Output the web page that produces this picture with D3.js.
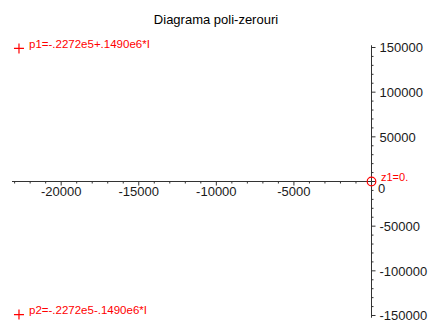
<!DOCTYPE html>
<html>
<head>
<meta charset="utf-8">
<script src="https://cdn.jsdelivr.net/npm/d3@7"></script>
<style>
  html, body { margin: 0; padding: 0; background: #fff; }
  svg { display: block; }
  text { font-family: "Liberation Sans", Arial, sans-serif; }
</style>
</head>
<body>
<svg id="chart" width="428" height="322"></svg>
<script>
// Pole-zero diagram data
const title = "Diagrama poli-zerouri";
const poleNames = ["p1", "p2"];
const poleRe = [-22720, -22720];
const poleIm = [149000, -149000];
const poleLabels = ["p1=-.2272e5+.1490e6*I", "p2=-.2272e5-.1490e6*I"];
const zeroNames = ["z1"];
const zeroRe = [0];
const zeroIm = [0];
const zeroLabels = ["z1=0."];
const xTicks = [-20000, -15000, -10000, -5000];
const yTicks = [150000, 100000, 50000, -50000, -100000, -150000];
const xMinor = d3.range(-23000, 1, 1000);
const yMinor = d3.range(-150000, 150001, 10000);

const svg = d3.select("#chart");
const x = d3.scaleLinear().domain([-23170, 0]).range([12, 371.5]);
const y = d3.scaleLinear().domain([-150000, 150000]).range([315.5, 47.5]);
const axisColor = "#333";
const textColor = "#1a1a1a";
const red = "#ff0000";

svg.append("text")
  .attr("x", 216).attr("y", 24)
  .attr("text-anchor", "middle")
  .attr("font-size", 13)
  .attr("fill", "#000")
  .text(title);

// horizontal axis
const gx = svg.append("g").attr("transform", `translate(0,${y(0)})`);
gx.append("line").attr("x1", x.range()[0]).attr("x2", x(0))
  .attr("stroke", axisColor);
gx.selectAll("line.minor").data(xMinor).join("line")
  .attr("class", "minor")
  .attr("x1", d => x(d)).attr("x2", d => x(d))
  .attr("y1", 0).attr("y2", d => d % 5000 === 0 ? 4 : 2)
  .attr("stroke", axisColor);
gx.selectAll("text").data(xTicks).join("text")
  .attr("x", d => x(d)).attr("y", 14)
  .attr("text-anchor", "middle")
  .attr("font-size", 13)
  .attr("fill", textColor)
  .text(d => d);

// vertical axis
const gy = svg.append("g").attr("transform", `translate(${x(0)},0)`);
gy.append("line").attr("y1", y(152500)).attr("y2", y(-152500))
  .attr("stroke", axisColor);
gy.selectAll("line.minor").data(yMinor).join("line")
  .attr("class", "minor")
  .attr("y1", d => y(d)).attr("y2", d => y(d))
  .attr("x1", 0).attr("x2", d => d % 50000 === 0 ? 4 : 2)
  .attr("stroke", axisColor);
gy.selectAll("text").data(yTicks).join("text")
  .attr("x", 8).attr("y", d => y(d))
  .attr("dy", "0.36em")
  .attr("font-size", 13)
  .attr("fill", textColor)
  .text(d => d);
// origin label
gy.append("text").attr("x", 6.5).attr("y", y(0) + 11.5)
  .attr("font-size", 13).attr("fill", textColor).text("0");

// poles as crosses
const poles = poleNames.map((n, i) => ({ re: poleRe[i], im: poleIm[i], label: poleLabels[i] }));
const pg = svg.selectAll("g.pole").data(poles).join("g")
  .attr("class", "pole")
  .attr("transform", d => `translate(${x(d.re)},${y(d.im)})`);
pg.append("path").attr("d", "M-5,0H5M0,-5V5")
  .attr("stroke", red).attr("stroke-width", 1.2);
pg.append("text").attr("x", 10).attr("y", 0).attr("dy", "-0.05em")
  .attr("font-size", 11.5).attr("fill", red)
  .text(d => d.label);

// zeros as circles
const zeros = zeroNames.map((n, i) => ({ re: zeroRe[i], im: zeroIm[i], label: zeroLabels[i] }));
const zg = svg.selectAll("g.zero").data(zeros).join("g")
  .attr("class", "zero")
  .attr("transform", d => `translate(${x(d.re)},${y(d.im)})`);
zg.append("circle").attr("r", 4.3)
  .attr("fill", "none").attr("stroke", red).attr("stroke-width", 1.2);
zg.append("text").attr("x", 9.5).attr("y", -1)
  .attr("font-size", 11).attr("fill", red)
  .text(d => d.label);
</script>
</body>
</html>
